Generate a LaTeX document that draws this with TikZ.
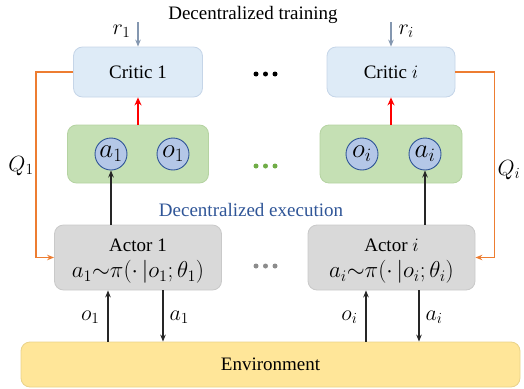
\RequirePackage{fix-cm}
\documentclass[tikz,border=0pt]{standalone}
\usepackage{fontspec}
\setmainfont{Liberation Serif}
\usetikzlibrary{arrows.meta,calc}
\definecolor{criticfill}{HTML}{DEEBF7}
\definecolor{criticdraw}{HTML}{C5D5E8}
\definecolor{greenfill}{HTML}{C5E0B4}
\definecolor{greendraw}{HTML}{B5D3A2}
\definecolor{circfill}{HTML}{B4C7E7}
\definecolor{circdraw}{HTML}{2F5597}
\definecolor{actorfill}{HTML}{D9D9D9}
\definecolor{actordraw}{HTML}{C9C9C9}
\definecolor{envfill}{HTML}{FFE699}
\definecolor{envdraw}{HTML}{EAD38A}
\definecolor{qorange}{HTML}{ED7D31}
\definecolor{rgray}{HTML}{8497B0}
\definecolor{execblue}{HTML}{2F5597}
\definecolor{darkline}{HTML}{262626}
\definecolor{greendot}{HTML}{70AD47}
\definecolor{graydot}{HTML}{8C8C8C}
\newcommand{\bigmath}{\fontsize{23}{26}\selectfont}
\tikzset{
  txt/.style={font=\fontsize{19}{22}\selectfont},
  criticbox/.style={draw=criticdraw, fill=criticfill, rounded corners=9pt, line width=0.8pt, txt},
  greenbox/.style={draw=greendraw, fill=greenfill, rounded corners=9pt, line width=0.8pt},
  varcirc/.style={circle, draw=circdraw, fill=circfill, line width=0.9pt, minimum size=32pt, inner sep=0pt, font=\fontsize{27}{28}\selectfont},
  actorbox/.style={draw=actordraw, fill=actorfill, rounded corners=9pt, line width=0.8pt, minimum width=167pt, minimum height=65pt},
  envbox/.style={draw=envdraw, fill=envfill, rounded corners=9pt, line width=0.8pt, txt},
  arr/.style={-{Stealth[length=7pt,width=5.5pt]}, line width=1.3pt},
  blackarr/.style={arr, draw=darkline},
  redarr/.style={arr, draw=red, line width=1.8pt, -{Stealth[length=8pt,width=7pt]}},
  rarr/.style={arr, draw=rgray, line width=1.8pt},
  qarr/.style={arr, draw=qorange, line width=1.8pt},
  dotstyle/.style={circle, inner sep=0pt, minimum size=5pt},
  lbl/.style={font=\fontsize{22}{24}\selectfont},
  formula/.style={font=\bigmath, inner sep=0pt}
}
\begin{document}
\begin{tikzpicture}[x=1pt,y=-1pt]
\useasboundingbox (0,0) rectangle (524,388);

\node[txt] (title) at (253,15) {Decentralized training};
\node[txt, text=execblue] (exec) at (251,210) {Decentralized execution};

% critics
\node[criticbox, minimum width=129pt, minimum height=50pt] (c1) at (138,72) {Critic 1};
\node[criticbox, minimum width=128pt, minimum height=50pt] (ci) at (391,72) {Critic $i$};

% green boxes
\node[greenbox, minimum width=141pt, minimum height=58pt] (g1) at (138,154) {};
\node[greenbox, minimum width=142pt, minimum height=58pt] (gi) at (391,154) {};
\node[varcirc] (ca1) at (111,154) {$a_1$};
\node[varcirc] (co1) at (173,154) {$o_1$};
\node[varcirc] (coi) at (362,154) {$o_i$};
\node[varcirc] (cai) at (425,154) {$a_i$};

% actors
\node[actorbox] (act1) at (138,257.5) {};
\node[actorbox] (acti) at (391.5,257.5) {};
\node[txt, inner sep=0pt] (act1t) at (138,245) {Actor 1};
\node[txt, inner sep=0pt] (actit) at (391.5,245) {Actor $i$};
\node[formula] (act1f) at (138,272) {$a_1{\sim}\pi(\cdot\,|o_1;\theta_1)$};
\node[formula] (actif) at (391.5,272) {$a_i{\sim}\pi(\cdot\,|o_i;\theta_i)$};

% environment
\node[envbox, minimum width=499pt, minimum height=45pt] (env) at (270.5,364.5) {Environment};

% dots
\foreach \x/\n in {256/a,265.5/b,275/c}{
  \node[dotstyle, fill=black] (kd\n) at (\x,74) {};
  \node[dotstyle, fill=greendot] (gd\n) at (\x,166) {};
  \node[dotstyle, fill=graydot] (ad\n) at (\x,266) {};
}

% reward arrows
\coordinate (r1top) at (138,22);
\coordinate (ritop) at (391,22);
\draw[rarr] (r1top) -- (r1top |- c1.north);
\draw[rarr] (ritop) -- (ritop |- ci.north);
\node[lbl, anchor=east] (r1l) at (134,31) {$r_1$};
\node[lbl, anchor=west] (ril) at (395,31) {$r_i$};

% red arrows
\draw[redarr] (g1.north) -- (c1.south);
\draw[redarr] (gi.north) -- (ci.south);

% actor -> action circle
\draw[blackarr] (act1.north -| ca1) -- (ca1.south);
\draw[blackarr] (acti.north -| cai) -- (cai.south);

% Q lines
\draw[qarr] (c1.west) -- ++(-37,0) |- (act1.west);
\draw[qarr] (ci.east) -- ++(39,0) |- (acti.east);
\node[lbl] (q1l) at (21,166) {$Q_1$};
\node[lbl] (qil) at (509,170) {$Q_i$};

% environment arrows
\coordinate (xo1) at (108,0);
\coordinate (xa1) at (163,0);
\coordinate (xoi) at (366,0);
\coordinate (xai) at (419,0);
\draw[blackarr] (env.north -| xo1) -- (act1.south -| xo1);
\draw[blackarr] (act1.south -| xa1) -- (env.north -| xa1);
\draw[blackarr] (env.north -| xoi) -- (acti.south -| xoi);
\draw[blackarr] (acti.south -| xai) -- (env.north -| xai);
\node[lbl, anchor=east] (o1l) at (103,317) {$o_1$};
\node[lbl, anchor=west] (a1l) at (166,317) {$a_1$};
\node[lbl, anchor=east] (oil) at (361,317) {$o_i$};
\node[lbl, anchor=west] (ail) at (422,317) {$a_i$};
\end{tikzpicture}
\end{document}
